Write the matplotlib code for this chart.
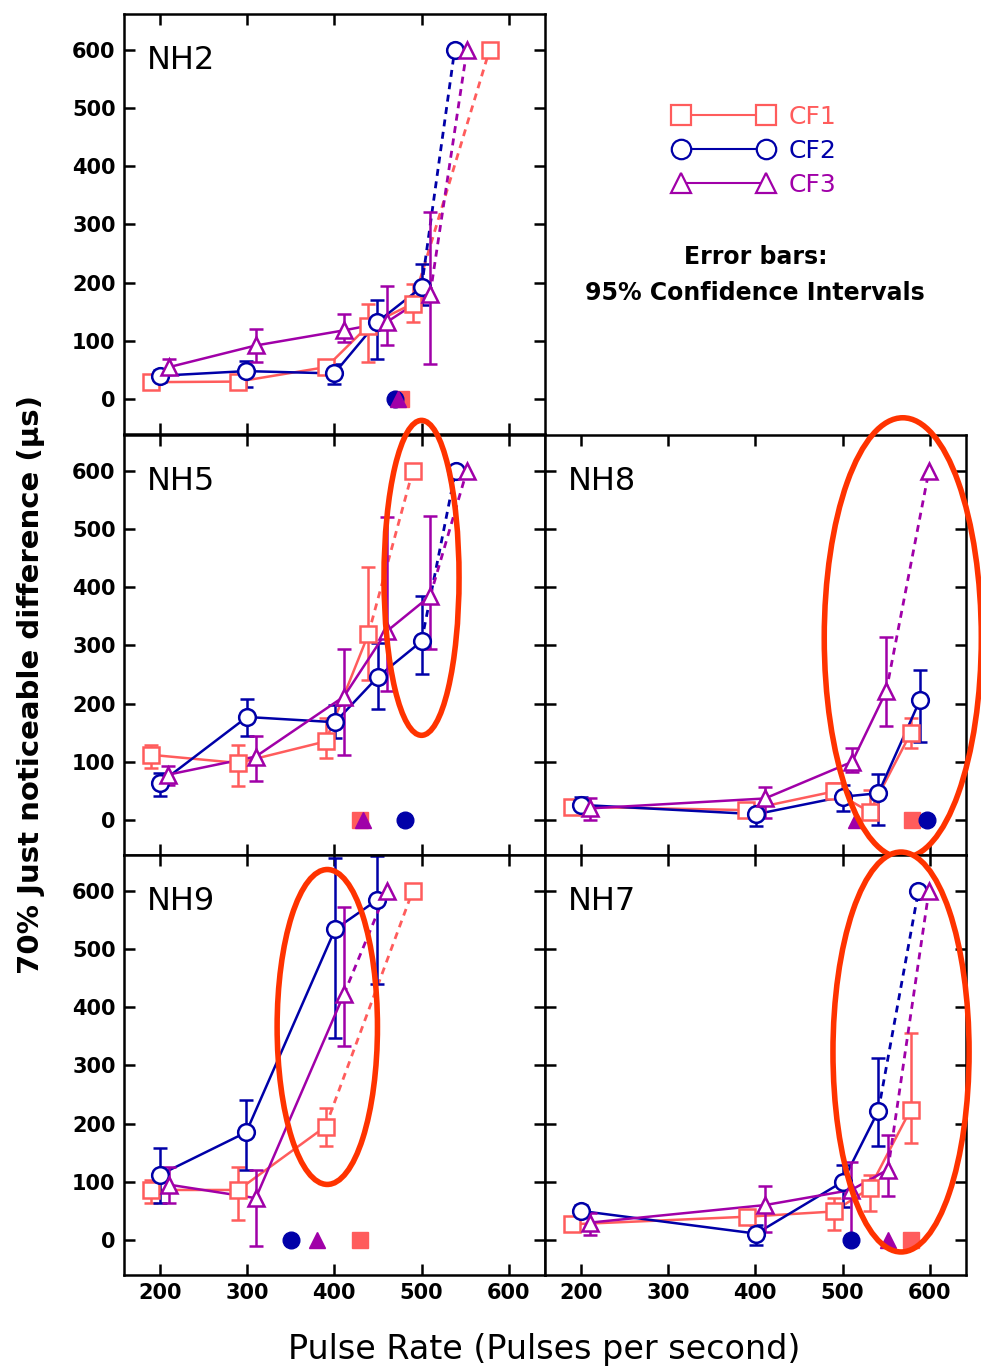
"""
Limiares JND por taxa de pulsos - cinco ouvintes NH, tres CFs.
"""

import matplotlib.pyplot as plt
from matplotlib.patches import Ellipse
from matplotlib.lines import Line2D

# ============================================================================ #
# DADOS
# ============================================================================ #

# cada serie: x, y, limites do IC 95% (lo, hi), ponto no teto (600) e
# posicao do marcador cheio em y=0
NH2_CF1 = dict(x=[190, 290, 391, 439, 490], y=[29, 30, 55, 126, 164],
               lo=[19, 20, 45, 63, 132], hi=[39, 40, 65, 164, 197],
               top=578, zero=476)
NH2_CF2 = dict(x=[200, 299, 400, 449, 500], y=[40, 48, 44, 132, 192],
               lo=[30, 21, 26, 68, 161], hi=[50, 66, 60, 170, 232],
               top=538, zero=470)
NH2_CF3 = dict(x=[211, 310, 411, 460, 510], y=[55, 92, 118, 132, 181],
               lo=[43, 63, 98, 93, 61], hi=[69, 121, 146, 195, 322],
               top=552, zero=473)

NH5_CF1 = dict(x=[190, 290, 390, 439], y=[112, 98, 135, 319],
               lo=[89, 59, 107, 241], hi=[129, 129, 175, 434],
               top=490, zero=429)
NH5_CF2 = dict(x=[200, 300, 401, 450, 500], y=[63, 177, 168, 246, 307],
               lo=[42, 145, 141, 191, 251], hi=[80, 208, 197, 304, 385],
               top=539, zero=481)
NH5_CF3 = dict(x=[210, 310, 411, 460, 510], y=[78, 109, 212, 324, 385],
               lo=[60, 67, 112, 221, 293], hi=[92, 145, 293, 521, 522],
               top=552, zero=433)

NH8_CF1 = dict(x=[190, 389, 490, 531, 578], y=[23, 17, 49, 14, 149],
               lo=[13, 7, 37, 3, 123], hi=[33, 27, 63, 52, 175],
               top=None, zero=580)
NH8_CF2 = dict(x=[200, 401, 500, 541, 589], y=[26, 10, 40, 46, 207],
               lo=[20, -11, 15, -9, 134], hi=[40, 23, 61, 79, 258],
               top=None, zero=597)
NH8_CF3 = dict(x=[211, 411, 511, 550], y=[20, 37, 100, 221],
               lo=[0, 3, 83, 161], hi=[37, 57, 123, 314],
               top=599, zero=515)

NH9_CF1 = dict(x=[190, 290, 390], y=[86, 86, 195],
               lo=[63, 34, 162], hi=[103, 126, 226],
               top=490, zero=430)
NH9_CF2 = dict(x=[200, 299, 401, 449], y=[112, 185, 534, 584],
               lo=[63, 121, 347, 439], hi=[158, 240, 657, 659],
               top=None, zero=350)
NH9_CF3 = dict(x=[211, 310, 411], y=[95, 72, 422],
               lo=[63, -11, 334], hi=[126, 121, 572],
               top=460, zero=380)

NH7_CF1 = dict(x=[190, 390, 490, 531, 578], y=[27, 40, 49, 89, 224],
               lo=[17, 30, 17, 49, 167], hi=[37, 50, 72, 112, 356],
               top=None, zero=578)
NH7_CF2 = dict(x=[200, 401, 500, 541], y=[50, 11, 100, 222],
               lo=[40, -9, 57, 162], hi=[60, 26, 129, 313],
               top=587, zero=510)
NH7_CF3 = dict(x=[211, 411, 510, 552], y=[30, 60, 86, 121],
               lo=[9, 14, 3, 75], hi=[46, 92, 134, 181],
               top=599, zero=552)

paineis = ["NH2", "NH5", "NH8", "NH9", "NH7"]
series = {
    "NH2": [NH2_CF1, NH2_CF2, NH2_CF3],
    "NH5": [NH5_CF1, NH5_CF2, NH5_CF3],
    "NH8": [NH8_CF1, NH8_CF2, NH8_CF3],
    "NH9": [NH9_CF1, NH9_CF2, NH9_CF3],
    "NH7": [NH7_CF1, NH7_CF2, NH7_CF3],
}

# elipses de destaque: painel, centro x, centro y, largura, altura (dados)
elipses = [("NH5", 500, 416, 86, 541),
           ("NH8", 569, 313, 180, 756),
           ("NH9", 392, 366, 115, 541),
           ("NH7", 567, 323, 156, 687)]

rotulos_cf = ["CF1", "CF2", "CF3"]
cores = ["#ff5c5c", "#0000a8", "#a000a8"]
marcadores = ["s", "o", "^"]
x_ticks = [200, 300, 400, 500, 600]
y_ticks = [0, 100, 200, 300, 400, 500, 600]

# ============================================================================ #
# FIGURA
# ============================================================================ #

plt.rcParams["font.family"] = ["DejaVu Sans"]

fig = plt.figure(figsize=(9.81, 13.69), dpi=100)

# posicoes dos paineis (fracao da figura)
x_esq, x_dir, larg = 0.1264, 0.5556, 0.4287
alt = 0.3070
y_linhas = [0.6830, 0.3755, 0.0687]
posicoes = {
    "NH2": (x_esq, y_linhas[0]),
    "NH5": (x_esq, y_linhas[1]),
    "NH8": (x_dir, y_linhas[1]),
    "NH9": (x_esq, y_linhas[2]),
    "NH7": (x_dir, y_linhas[2]),
}

eixos = {}
for nome in paineis:
    px, py = posicoes[nome]
    ax = fig.add_axes([px, py, larg, alt])
    eixos[nome] = ax

    for serie, cor, mk in zip(series[nome], cores, marcadores):
        x, y = serie["x"], serie["y"]
        yerr = [[yi - lo for yi, lo in zip(y, serie["lo"])],
                [hi - yi for yi, hi in zip(y, serie["hi"])]]
        ax.errorbar(x, y, yerr=yerr, fmt="none", ecolor=cor,
                    elinewidth=1.8, capsize=5, capthick=1.8, zorder=2)
        ax.plot(x, y, color=cor, lw=1.8, zorder=2)
        if serie["top"] is not None:
            ax.plot([x[-1], serie["top"]], [y[-1], 600], color=cor,
                    lw=2, ls=(0, (2.5, 2)), zorder=2)
            ax.plot([serie["top"]], [600], marker=mk, ms=12, mfc="white",
                    mec=cor, mew=1.8, ls="none", zorder=3)
        ax.plot(x, y, marker=mk, ms=12, mfc="white", mec=cor, mew=1.8,
                ls="none", zorder=3)
        ax.plot([serie["zero"]], [0], marker=mk, ms=12, color=cor,
                ls="none", zorder=3)

    ax.set_xlim(159, 641)
    ax.set_ylim(-60, 662)
    ax.set_xticks(x_ticks)
    ax.set_yticks(y_ticks)
    ax.tick_params(direction="in", length=8, width=1.8, top=True,
                   right=True, labelsize=15, pad=6)
    for sp in ax.spines.values():
        sp.set_linewidth(1.8)
    if px > 0.5:
        ax.tick_params(labelleft=False)
    if nome not in ("NH9", "NH7"):
        ax.tick_params(labelbottom=False)
    for lab in ax.get_xticklabels() + ax.get_yticklabels():
        lab.set_fontweight("bold")

    ax.text(0.055, 0.925, nome, transform=ax.transAxes, fontsize=23,
            va="top", ha="left")

# elipses vermelhas
for nome, cx, cy, w, h in elipses:
    el = Ellipse((cx, cy), w, h, fill=False, ec="#ff3300", lw=4,
                 clip_on=False, zorder=5)
    eixos[nome].add_patch(el)

# legenda
handles = [Line2D([0], [0], color=c, marker=m, ms=14, mfc="white", mec=c,
                  mew=1.6, lw=1.5) for c, m in zip(cores, marcadores)]
leg = fig.legend(handles, rotulos_cf, loc="upper left",
                 bbox_to_anchor=(0.664, 0.94), numpoints=2, frameon=False,
                 handlelength=4.0, fontsize=18, labelspacing=0.4,
                 handletextpad=0.6)
for txt, c in zip(leg.get_texts(), cores):
    txt.set_color(c)

fig.text(0.770, 0.812, "Error bars:", ha="center", va="center",
         fontsize=17, fontweight="bold")
fig.text(0.770, 0.786, "95% Confidence Intervals", ha="center",
         va="center", fontsize=17, fontweight="bold")

fig.text(0.032, 0.50, "70% Just noticeable difference (\u03bcs)",
         rotation=90, ha="center", va="center", fontsize=21,
         fontweight="bold")
fig.text(0.555, 0.014, "Pulse Rate (Pulses per second)", ha="center",
         va="center", fontsize=24)

fig.savefig("out.png", dpi=100)
